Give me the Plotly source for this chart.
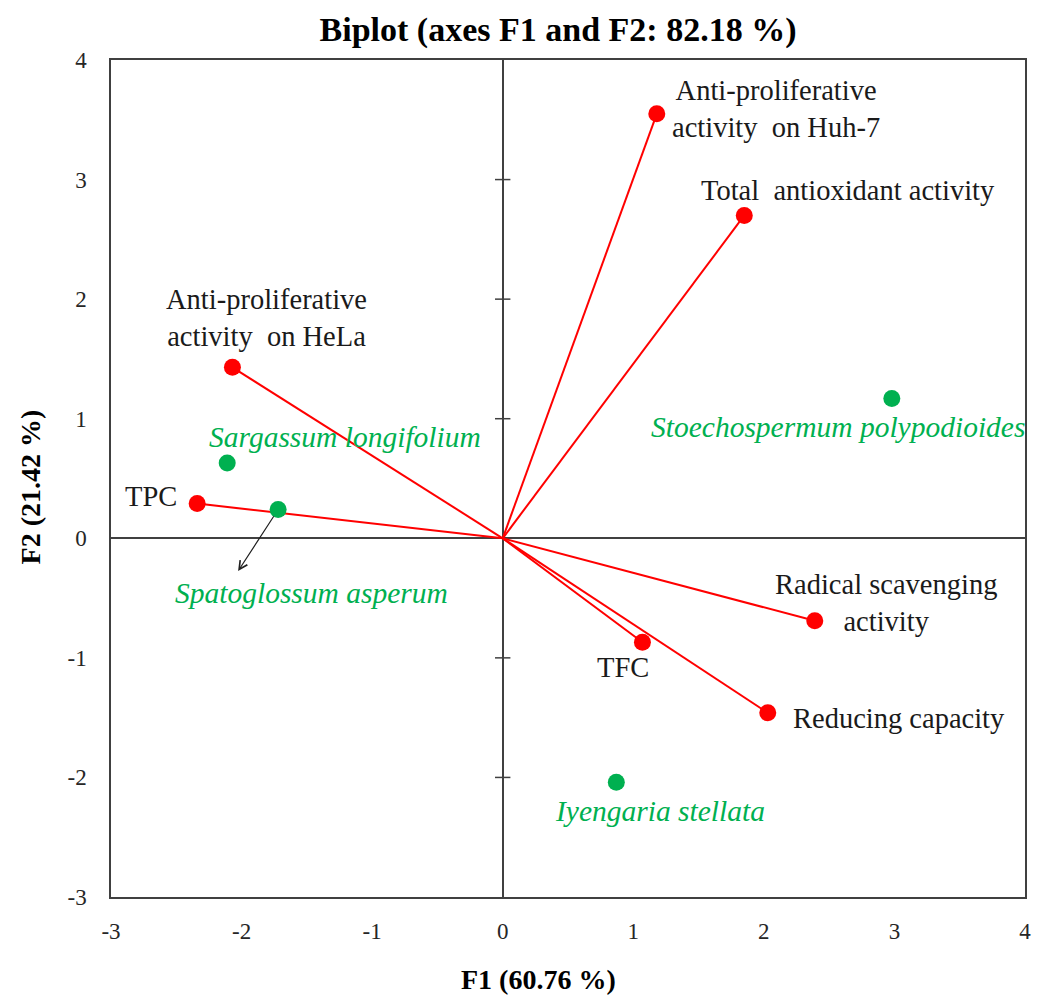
import plotly.graph_objects as go

# ---------------- data ----------------
var_names = ["Anti-proliferative<br>activity  on Huh-7", "Total  antioxidant activity",
             "Anti-proliferative<br>activity  on HeLa", "TPC",
             "Radical scavenging<br>activity", "TFC", "Reducing capacity"]
var_f1 = [1.18, 1.85, -2.07, -2.34, 2.39, 1.07, 2.03]
var_f2 = [3.55, 2.70, 1.43, 0.29, -0.69, -0.87, -1.46]

obs_names = ["Stoechospermum polypodioides", "Sargassum longifolium",
             "Spatoglossum asperum", "Iyengaria stellata"]
obs_f1 = [2.98, -2.11, -1.72, 0.87]
obs_f2 = [1.17, 0.63, 0.24, -2.04]

x_ticks = [-3, -2, -1, 0, 1, 2, 3, 4]
x_tick_labels = ["-3", "-2", "-1", "0", "1", "2", "3", "4"]
y_ticks = [-3, -2, -1, 0, 1, 2, 3, 4]
y_tick_labels = ["-3", "-2", "-1", "0", "1", "2", "3", "4"]

# ---------------- label placement (pixel offsets) ----------------
var_label_shift = [(119, 5), (104, 25), (34, 49), (-46, 7), (71, 18), (-19, -25), (131, -6)]
obs_label_shift = [(-54, -29), (118, 26), (33, -83), (44, -29)]

RED = "#FF0000"
GREEN = "#00B050"
AXIS = "#404040"
FONT = "Liberation Serif"

fig = go.Figure()

# vectors from origin
lx, ly = [], []
for a, b in zip(var_f1, var_f2):
    lx += [0, a, None]
    ly += [0, b, None]
fig.add_trace(go.Scatter(x=lx, y=ly, mode="lines", line=dict(color=RED, width=2),
                         hoverinfo="skip", showlegend=False))

# y ticks on the vertical zero line
ytk = [v for v in y_ticks if v not in (0, y_ticks[0], y_ticks[-1])]
fig.add_trace(go.Scatter(x=[0] * len(ytk), y=ytk, mode="markers",
                         marker=dict(symbol="line-ew", size=11,
                                     line=dict(color=AXIS, width=1.5)),
                         hoverinfo="skip", showlegend=False))

fig.add_trace(go.Scatter(x=var_f1, y=var_f2, mode="markers",
                         marker=dict(color=RED, size=17), showlegend=False))
fig.add_trace(go.Scatter(x=obs_f1, y=obs_f2, mode="markers",
                         marker=dict(color=GREEN, size=17), showlegend=False))

for name, a, b, (dx, dy) in zip(var_names, var_f1, var_f2, var_label_shift):
    fig.add_annotation(x=a, y=b, xref="x", yref="y", text=name, showarrow=False,
                       xshift=dx, yshift=dy, xanchor="center", yanchor="middle",
                       align="center", font=dict(family=FONT, size=28.5, color="#1a1a1a"))

for name, a, b, (dx, dy) in zip(obs_names, obs_f1, obs_f2, obs_label_shift):
    fig.add_annotation(x=a, y=b, xref="x", yref="y", text="<i>" + name + "</i>",
                       showarrow=False, xshift=dx, yshift=dy, xanchor="center",
                       yanchor="middle", font=dict(family=FONT, size=29.5, color=GREEN))

# arrow from Spatoglossum point to its label
i_sp = obs_names.index("Spatoglossum asperum")
fig.add_annotation(x=obs_f1[i_sp], y=obs_f2[i_sp], xref="x", yref="y", text="",
                   showarrow=True, ax=-41, ay=63, arrowside="start",
                   startarrowhead=5, startarrowsize=1.4, arrowwidth=1.2,
                   arrowcolor="#202020", standoff=8)

# axis titles and title
fig.add_annotation(x=0.468, y=-0.098, xref="paper", yref="paper", text="<b>F1 (60.76 %)</b>",
                   showarrow=False, xanchor="center", yanchor="middle",
                   font=dict(family=FONT, size=28, color="black"))
fig.add_annotation(x=-0.088, y=0.49, xref="paper", yref="paper", text="<b>F2 (21.42 %)</b>",
                   showarrow=False, textangle=-90, xanchor="center", yanchor="middle",
                   font=dict(family=FONT, size=28, color="black"))

fig.update_layout(
    width=1043, height=998,
    margin=dict(l=111, r=16, t=60, b=101),
    paper_bgcolor="white", plot_bgcolor="white",
    title=dict(text="<b>Biplot (axes F1 and F2: 82.18 %)</b>", x=558 / 1043, xref="container",
               xanchor="center", y=1 - 29 / 998, yref="container", yanchor="middle",
               font=dict(family=FONT, size=34, color="black")),
    xaxis=dict(range=[x_ticks[0], x_ticks[-1]], tickvals=x_ticks, ticktext=x_tick_labels,
               showgrid=False,
               zeroline=True, zerolinecolor=AXIS, zerolinewidth=1.5,
               showline=True, linecolor=AXIS, linewidth=1.5, mirror=True,
               ticks="outside", ticklen=13, tickcolor="rgba(0,0,0,0)",
               tickfont=dict(family=FONT, size=23, color="#262626")),
    yaxis=dict(range=[y_ticks[0], y_ticks[-1]], tickvals=y_ticks, ticktext=y_tick_labels,
               showgrid=False,
               zeroline=True, zerolinecolor=AXIS, zerolinewidth=1.5,
               showline=True, linecolor=AXIS, linewidth=1.5, mirror=True,
               ticks="outside", ticklen=18, tickcolor="rgba(0,0,0,0)",
               tickfont=dict(family=FONT, size=23, color="#262626")),
)

fig.write_html("out.html")
